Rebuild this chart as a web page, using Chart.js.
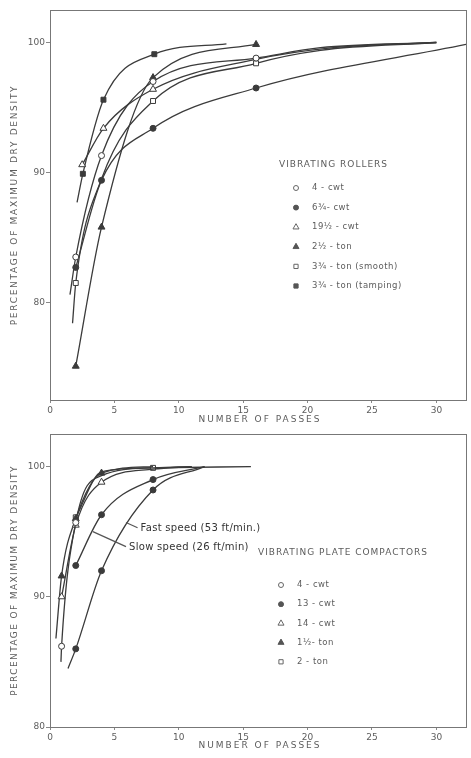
<!DOCTYPE html>
<html>
<head>
<meta charset="utf-8">
<script src="https://cdn.jsdelivr.net/npm/chart.js@4.4.1/dist/chart.umd.min.js"></script>
<style>
  body { margin: 0; background: #fff; }
  canvas { position: absolute; left: 0; }
  #top { top: 0; }
  #bottom { top: 425px; }
</style>
</head>
<body>
<canvas id="top" width="471" height="425"></canvas>
<canvas id="bottom" width="471" height="333"></canvas>
<script>
// tick labels shared by both panels
const xTicks = [0, 5, 10, 15, 20, 25, 30];
const yTicks = [80, 90, 100];

// --- vibrating rollers (top panel) ---
const rollerNames = ['4 - cwt', '6¾- cwt', '19½ - cwt', '2½ - ton', '3¾ - ton (smooth)', '3¾ - ton (tamping)'];
const roller4cwtX   = [1.55, 2, 4, 8, 16, 21, 30];
const roller4cwtY   = [80.6, 83.5, 91.3, 97.0, 98.8, 99.6, 100];
const roller4cwtM   = [0, 1, 1, 1, 1, 0, 0];
const roller634X    = [2, 4, 8, 16, 32.3];
const roller634Y    = [82.7, 89.4, 93.4, 96.5, 99.85];
const roller634M    = [1, 1, 1, 1, 0];
const roller1912X   = [2.5, 4.15, 8, 16, 22, 30];
const roller1912Y   = [90.6, 93.4, 96.4, 98.7, 99.6, 100];
const roller1912M   = [1, 1, 1, 0, 0, 0];
const roller212X    = [2, 4, 8, 16];
const roller212Y    = [75.1, 85.8, 97.3, 99.85];
const roller212M    = [1, 1, 1, 1];
const roller334sX   = [1.75, 2, 4, 8, 16, 21, 30];
const roller334sY   = [78.4, 81.5, 89.5, 95.5, 98.4, 99.4, 100];
const roller334sM   = [0, 1, 0, 1, 1, 0, 0];
const roller334tX   = [2.1, 2.55, 4.15, 8.1, 13.7];
const roller334tY   = [87.7, 89.9, 95.6, 99.1, 99.9];
const roller334tM   = [0, 1, 1, 1, 0];

// --- vibrating plate compactors (bottom panel) ---
const plateNames = ['4 - cwt', '13 - cwt', '14 - cwt', '1½- ton', '2 - ton'];
const plate4cwtX   = [0.85, 0.9, 2, 4, 8, 11];
const plate4cwtY   = [85.0, 86.2, 95.7, 99.3, 99.9, 100];
const plate4cwtM   = [0, 1, 1, 0, 0, 0];
const plate13fastX = [1.4, 2, 4, 8, 12];
const plate13fastY = [84.5, 86.0, 92.0, 98.2, 100];
const plate13fastM = [0, 1, 1, 1, 0];
const plate13slowX = [2, 4, 8, 12];
const plate13slowY = [92.4, 96.3, 99.0, 100];
const plate13slowM = [1, 1, 1, 0];
const plate14X     = [0.9, 2, 4, 8, 11];
const plate14Y     = [90.0, 95.5, 98.8, 99.8, 100];
const plate14M     = [1, 1, 1, 0, 0];
const plate112X    = [0.46, 0.9, 2, 4, 8];
const plate112Y    = [86.8, 91.6, 96.0, 99.5, 100];
const plate112M    = [0, 1, 1, 1, 0];
const plate2tX     = [2, 4, 8, 15.6];
const plate2tY     = [96.1, 99.6, 99.9, 100];
const plate2tM     = [1, 0, 1, 0];

const INK = '#3b3b3b';
const TEXT = '#5c5c5c';
const FONT = 'DejaVu Sans';

// marker look: [pointStyle, filled, radius]
const rollerStyles = [['circle', false, 3], ['circle', true, 3], ['triangle', false, 4], ['triangle', true, 4], ['rect', false, 3.5], ['rect', true, 3.5]];
const plateStyles  = [['circle', false, 3], ['circle', true, 3], ['triangle', false, 4], ['triangle', true, 4], ['rect', false, 3.5]];

function series(xs, ys, marks, style) {
  return {
    data: xs.map((x, i) => ({ x: x, y: ys[i] })),
    borderColor: INK,
    borderWidth: 1.3,
    pointStyle: style[0],
    pointRadius: marks.map(m => m ? style[2] : 0),
    pointBackgroundColor: style[1] ? INK : '#fff',
    pointBorderColor: INK,
    pointBorderWidth: 1,
    cubicInterpolationMode: 'monotone',
    fill: false
  };
}

// box round the plot area
const frame = {
  id: 'frame',
  beforeDatasetsDraw(chart) {
    const a = chart.chartArea, ctx = chart.ctx;
    ctx.save();
    ctx.strokeStyle = '#777';
    ctx.lineWidth = 1;
    ctx.strokeRect(a.left + 0.5, a.top + 0.5, a.width, a.height);
    ctx.restore();
  }
};

// axis titles in spaced stencil lettering
function axisTitles(ySpacing, xTitleY) {
  return {
    id: 'axisTitles',
    afterDraw(chart) {
      const a = chart.chartArea, ctx = chart.ctx;
      ctx.save();
      ctx.fillStyle = TEXT;
      ctx.font = '9px "' + FONT + '"';
      ctx.textAlign = 'center';
      ctx.textBaseline = 'middle';
      ctx.letterSpacing = '2px';
      ctx.fillText('NUMBER OF PASSES', (a.left + a.right) / 2 + 2, xTitleY);
      ctx.translate(15, (a.top + a.bottom) / 2);
      ctx.rotate(-Math.PI / 2);
      ctx.letterSpacing = ySpacing;
      ctx.fillText('PERCENTAGE OF MAXIMUM DRY DENSITY', 0, 0);
      ctx.restore();
    }
  };
}

// hand drawn key inside the plot
function keyBox(title, tx, ty, names, styles, mx, lx, y0, gap) {
  return {
    id: 'keyBox',
    afterDatasetsDraw(chart) {
      const ctx = chart.ctx;
      ctx.save();
      ctx.letterSpacing = '1px';
      ctx.fillStyle = TEXT;
      ctx.textBaseline = 'middle';
      ctx.font = '9px "' + FONT + '"';
      ctx.fillText(title, tx, ty);
      ctx.letterSpacing = '0.5px';
      ctx.font = '8.5px "' + FONT + '"';
      names.forEach((n, i) => {
        const y = y0 + i * gap;
        const s = styles[i];
        ctx.fillStyle = s[1] ? '#555' : '#fff';
        ctx.strokeStyle = '#666';
        ctx.lineWidth = 1;
        Chart.helpers.drawPoint(ctx, { pointStyle: s[0], radius: s[2] - 0.5, rotation: 0, borderWidth: 1 }, mx, y);
        if (s[1]) ctx.fill();
        ctx.fillStyle = TEXT;
        ctx.fillText(n, lx, y);
      });
      ctx.restore();
    }
  };
}

function options(ymin, padTop, padRight, xHeight) {
  return {
    responsive: false,
    animation: false,
    events: [],
    layout: { padding: { top: padTop, right: padRight, left: 0, bottom: 0 } },
    plugins: { legend: { display: false }, tooltip: { enabled: false } },
    scales: {
      x: {
        type: 'linear', min: 0, max: 32.3,
        afterBuildTicks: s => { s.ticks = xTicks.map(v => ({ value: v })); },
        afterFit: s => { s.height = xHeight; },
        grid: { display: true, drawOnChartArea: false, drawTicks: true, tickLength: 3, color: '#888' },
        border: { display: true, color: '#777' },
        ticks: { color: TEXT, font: { family: FONT, size: 9 }, padding: 2, maxRotation: 0 }
      },
      y: {
        type: 'linear', min: ymin, max: 102.5,
        afterBuildTicks: s => { s.ticks = yTicks.map(v => ({ value: v })); },
        afterFit: s => { s.width = 50; },
        grid: { display: true, drawOnChartArea: false, drawTicks: true, tickLength: 4, color: '#888' },
        border: { display: true, color: '#777' },
        ticks: { color: TEXT, font: { family: FONT, size: 9 }, padding: 1 }
      }
    }
  };
}

new Chart(document.getElementById('top'), {
  type: 'line',
  data: {
    datasets: [
      series(roller4cwtX, roller4cwtY, roller4cwtM, rollerStyles[0]),
      series(roller634X, roller634Y, roller634M, rollerStyles[1]),
      series(roller1912X, roller1912Y, roller1912M, rollerStyles[2]),
      series(roller212X, roller212Y, roller212M, rollerStyles[3]),
      series(roller334sX, roller334sY, roller334sM, rollerStyles[4]),
      series(roller334tX, roller334tY, roller334tM, rollerStyles[5])
    ]
  },
  options: options(72.5, 10, 1, 25),
  plugins: [frame, axisTitles('1.7px', 420), keyBox('VIBRATING ROLLERS', 279, 165, rollerNames, rollerStyles, 296, 312, 188, 19.6)]
});

// leader notes for the two 13 cwt runs, anchored in data units
const noteText = ['Fast speed (53 ft/min.)', 'Slow speed (26 ft/min)'];
const noteTipX = [5.9, 3.33];
const noteTipY = [95.7, 95.0];
const noteTailX = [6.8, 5.9];
const noteTailY = [95.3, 93.85];

const notes = {
  id: 'notes',
  afterDatasetsDraw(chart) {
    const ctx = chart.ctx, sx = chart.scales.x, sy = chart.scales.y;
    ctx.save();
    ctx.letterSpacing = '0.3px';
    ctx.strokeStyle = '#555';
    ctx.fillStyle = '#333';
    ctx.lineWidth = 1.2;
    ctx.font = '10px "' + FONT + '"';
    ctx.textBaseline = 'middle';
    noteText.forEach((t, i) => {
      const x1 = sx.getPixelForValue(noteTipX[i]), y1 = sy.getPixelForValue(noteTipY[i]);
      const x2 = sx.getPixelForValue(noteTailX[i]), y2 = sy.getPixelForValue(noteTailY[i]);
      ctx.beginPath();
      ctx.moveTo(x1, y1);
      ctx.lineTo(x2, y2);
      ctx.stroke();
      ctx.fillText(t, x2 + 3, y2 + 1);
    });
    ctx.restore();
  }
};

new Chart(document.getElementById('bottom'), {
  type: 'line',
  data: {
    datasets: [
      series(plate4cwtX, plate4cwtY, plate4cwtM, plateStyles[0]),
      series(plate13fastX, plate13fastY, plate13fastM, plateStyles[1]),
      series(plate13slowX, plate13slowY, plate13slowM, plateStyles[1]),
      series(plate14X, plate14Y, plate14M, plateStyles[2]),
      series(plate112X, plate112Y, plate112M, plateStyles[3]),
      series(plate2tX, plate2tY, plate2tM, plateStyles[4])
    ]
  },
  options: options(80, 9, 2, 31),
  plugins: [frame, notes, axisTitles('1.4px', 321), keyBox('VIBRATING PLATE COMPACTORS', 258, 128, plateNames, plateStyles, 281, 297, 160, 19.2)]
});
</script>
</body>
</html>
